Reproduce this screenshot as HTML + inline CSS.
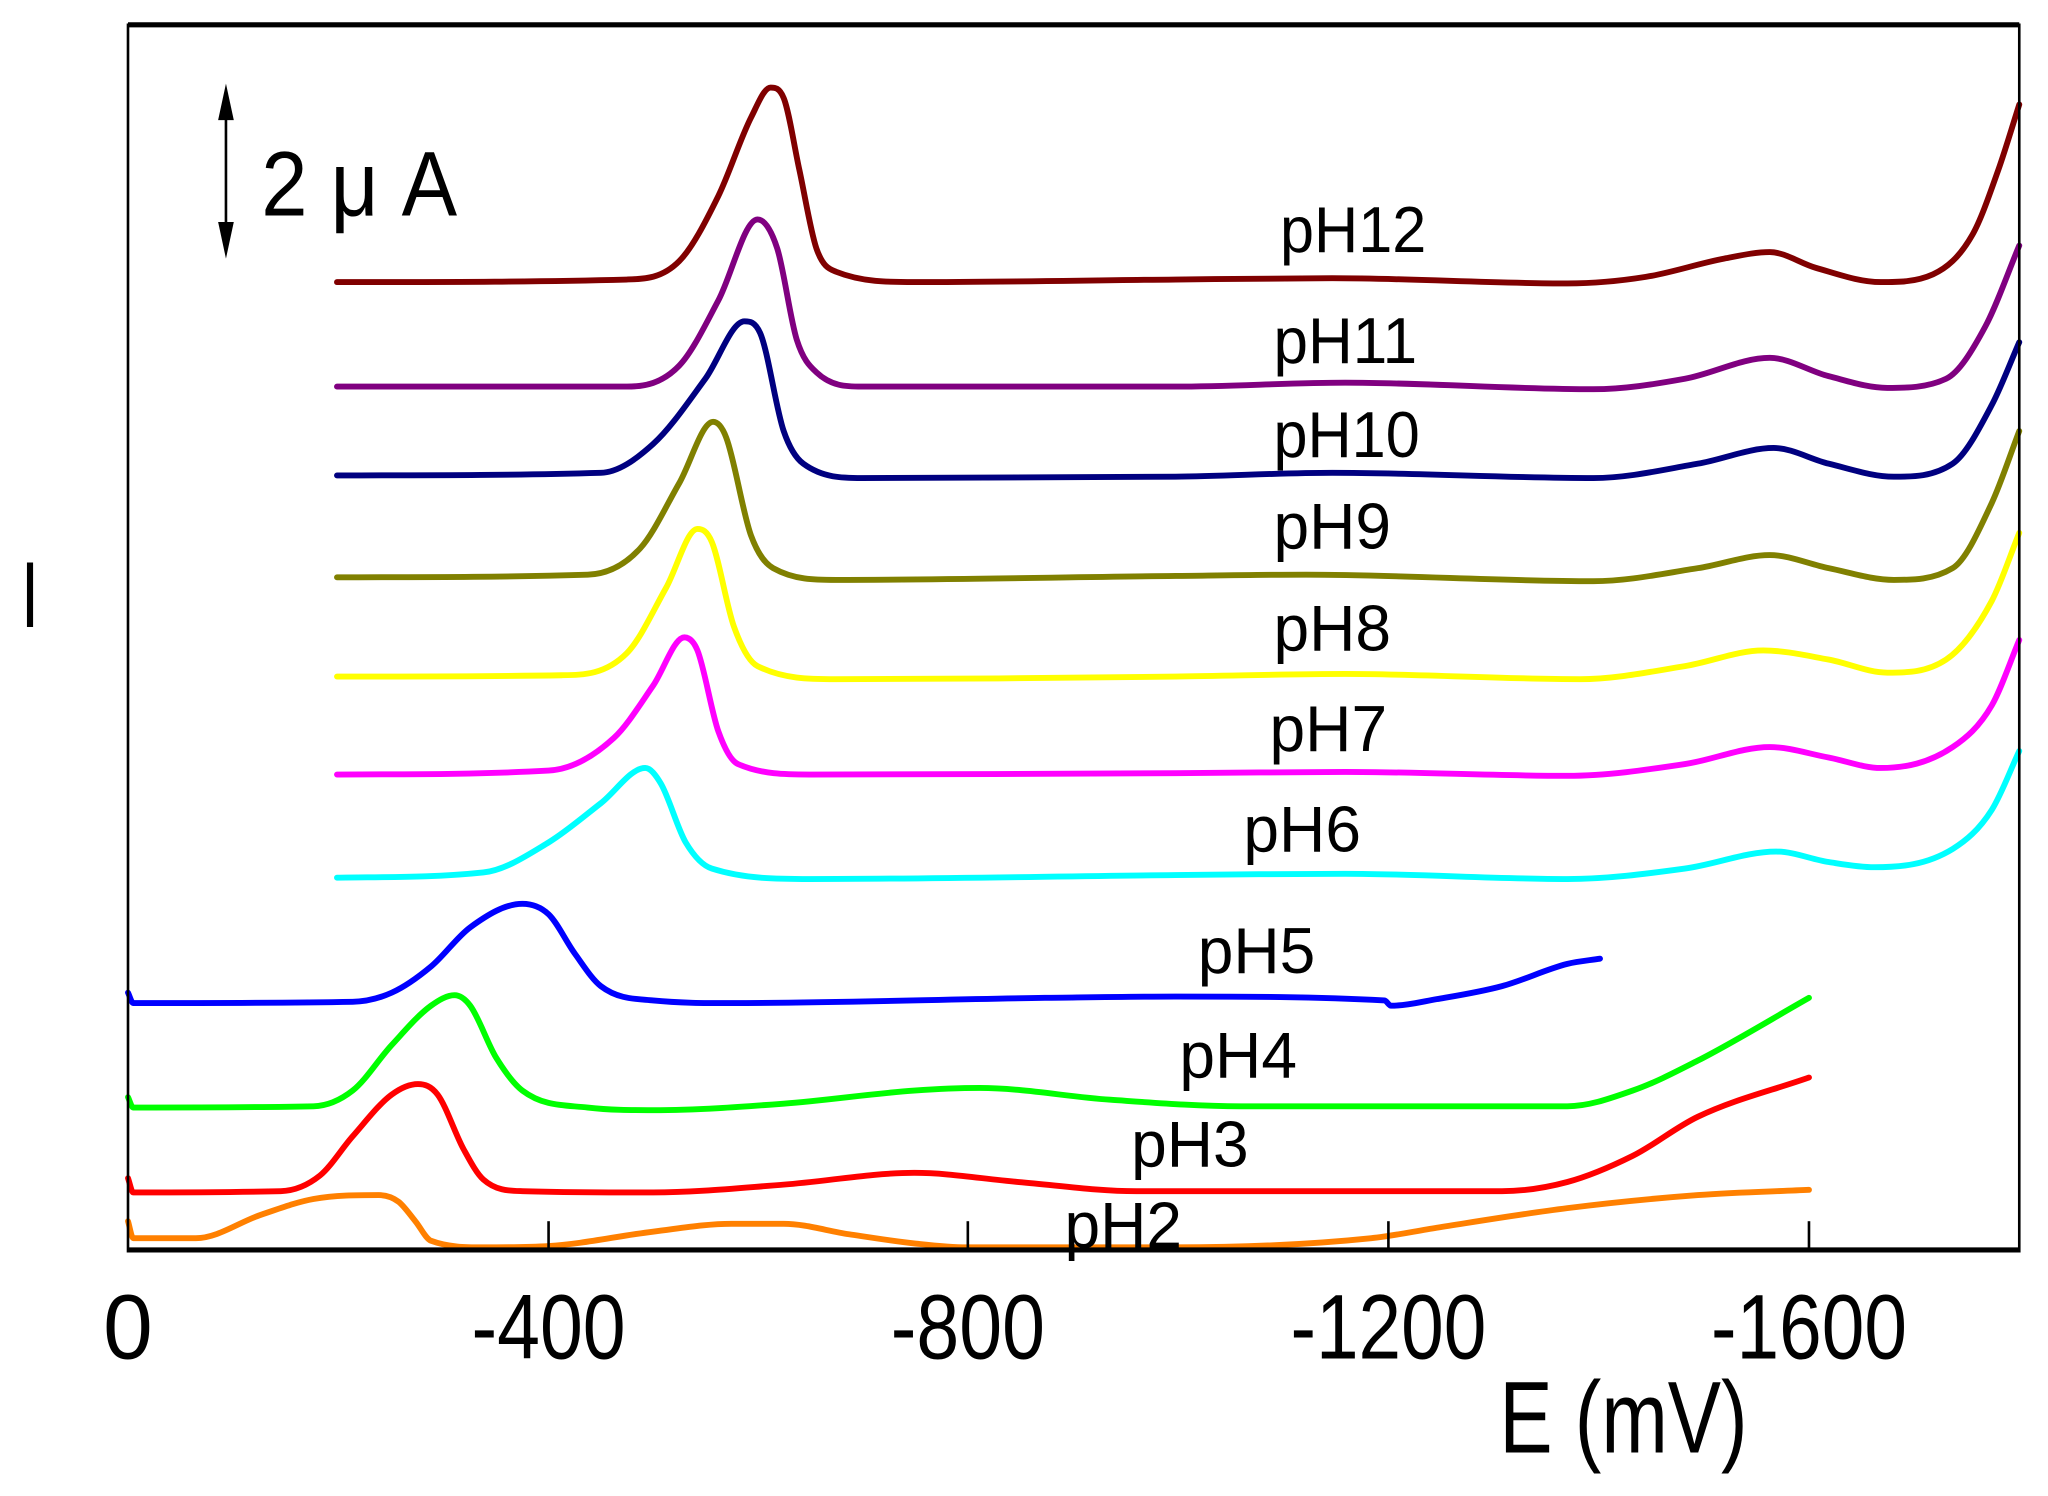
<!DOCTYPE html>
<html><head><meta charset="utf-8"><style>html,body{margin:0;padding:0;background:#fff}svg{display:block}</style></head>
<body>
<svg id="s" width="2048" height="1496" viewBox="0 0 1568 1145.4" preserveAspectRatio="none" xmlns="http://www.w3.org/2000/svg" font-family="Liberation Sans, sans-serif">
<rect width="1568" height="1146" fill="#fff"/>
<g id="curves" fill="none" stroke-width="4.5" stroke-linejoin="round" stroke-linecap="round">
<polyline stroke="#800000" points="258,216 480,214 520,200 550,150 575,90 590,67 600,75 612,130 625,190 640,208 700,216 900,214 1020,213 1200,217 1260,212 1320,198 1355,193 1390,205 1440,216 1480,210 1510,180 1530,130 1546,80"/>
<polyline stroke="#800080" points="258,296 480,296 520,280 550,230 580,168 595,190 610,260 625,285 660,296 900,296 1030,293 1220,298 1290,290 1355,274 1400,288 1445,297 1490,290 1520,250 1546,188"/>
<polyline stroke="#000080" points="258,364 460,362 500,340 540,290 570,246 582,255 600,330 615,355 660,366 900,365 1020,362 1220,366 1300,355 1358,343 1400,355 1450,365 1495,355 1525,310 1546,262"/>
<polyline stroke="#808000" points="258,442 450,440 490,420 520,370 546,323 556,335 575,410 592,435 640,444 900,441 1000,440 1220,445 1300,435 1355,425 1400,435 1450,444 1495,435 1525,385 1546,330"/>
<polyline stroke="#ffff00" points="258,518 430,517 480,500 510,450 534,405 545,415 562,480 580,510 640,520 900,518 1030,516 1210,520 1290,510 1350,498 1400,505 1445,515 1490,505 1525,460 1546,408"/>
<polyline stroke="#ff00ff" points="258,593 420,590 470,565 500,525 524,488 534,498 550,560 565,585 620,593 900,592 1030,591 1200,594 1290,585 1355,572 1400,580 1440,588 1495,572 1525,540 1546,490"/>
<polyline stroke="#00ffff" points="258,672 370,668 420,645 460,615 494,588 506,600 525,645 545,665 620,673 900,670 1030,669 1200,673 1290,665 1360,652 1400,660 1435,664 1495,650 1525,620 1546,575"/>
<polyline stroke="#0000ff" points="98,760 102,768 270,767 300,760 330,740 360,710 400,692 420,700 440,730 460,755 500,766 560,768 800,764 900,763 1060,766 1065,770 1100,765 1150,755 1200,738 1225,734"/>
<polyline stroke="#00ff00" points="98,840 102,848 240,847 270,835 300,800 330,770 348,762 360,770 380,810 400,835 450,848 500,850 600,845 700,835 750,833 850,842 950,847 1200,847 1250,835 1300,812 1385,764"/>
<polyline stroke="#ff0000" points="98,902 102,913 215,912 245,900 270,870 300,838 320,830 335,838 355,880 370,903 400,912 500,913 600,907 700,898 780,905 870,912 1150,912 1200,905 1250,885 1300,855 1385,825"/>
<polyline stroke="#ff8000" points="98,935 102,948 150,948 200,930 240,918 290,915 305,920 318,935 330,950 370,955 420,954 500,943 560,937 600,937 650,945 700,952 740,955 900,955 1050,948 1100,940 1200,925 1300,915 1385,911"/>
</g>
<g stroke="#000" fill="none">
<line x1="98" y1="19" x2="1546" y2="19" stroke-width="4"/>
<line x1="98" y1="957" x2="1546" y2="957" stroke-width="4"/>
<line x1="98" y1="18" x2="98" y2="959" stroke-width="2"/>
<line x1="1546" y1="18" x2="1546" y2="959" stroke-width="2"/>
<line x1="420" y1="957" x2="420" y2="935" stroke-width="2"/>
<line x1="741" y1="957" x2="741" y2="935" stroke-width="2"/>
<line x1="1063" y1="957" x2="1063" y2="935" stroke-width="2"/>
<line x1="1385" y1="957" x2="1385" y2="935" stroke-width="2"/>
<line x1="173" y1="80" x2="173" y2="182" stroke-width="2"/>
</g>
<polygon points="173,64 167,92 179,92" fill="#000"/>
<polygon points="173,198 167,170 179,170" fill="#000"/>
<g fill="#000" font-size="50">
<text x="980" y="193" textLength="112" lengthAdjust="spacingAndGlyphs">pH12</text>
<text x="975" y="278" textLength="110" lengthAdjust="spacingAndGlyphs">pH11</text>
<text x="975" y="350" textLength="112" lengthAdjust="spacingAndGlyphs">pH10</text>
<text x="975" y="420" textLength="90" lengthAdjust="spacingAndGlyphs">pH9</text>
<text x="975" y="498" textLength="90" lengthAdjust="spacingAndGlyphs">pH8</text>
<text x="972" y="575" textLength="90" lengthAdjust="spacingAndGlyphs">pH7</text>
<text x="952" y="652" textLength="90" lengthAdjust="spacingAndGlyphs">pH6</text>
<text x="917" y="745" textLength="90" lengthAdjust="spacingAndGlyphs">pH5</text>
<text x="903" y="825" textLength="90" lengthAdjust="spacingAndGlyphs">pH4</text>
<text x="866" y="893" textLength="90" lengthAdjust="spacingAndGlyphs">pH3</text>
<text x="815" y="955" textLength="90" lengthAdjust="spacingAndGlyphs">pH2</text>
</g>
<g fill="#000" font-size="70">
<text x="200" y="165" textLength="150" lengthAdjust="spacingAndGlyphs">2 μ A</text>
<text x="16" y="480" font-size="72" textLength="14" lengthAdjust="spacingAndGlyphs">I</text>
<text x="98" y="1040" text-anchor="middle" textLength="38" lengthAdjust="spacingAndGlyphs">0</text>
<text x="420" y="1040" text-anchor="middle" textLength="118" lengthAdjust="spacingAndGlyphs">-400</text>
<text x="741" y="1040" text-anchor="middle" textLength="118" lengthAdjust="spacingAndGlyphs">-800</text>
<text x="1063" y="1040" text-anchor="middle" textLength="150" lengthAdjust="spacingAndGlyphs">-1200</text>
<text x="1385" y="1040" text-anchor="middle" textLength="150" lengthAdjust="spacingAndGlyphs">-1600</text>
<text x="1148" y="1112" font-size="78" textLength="190" lengthAdjust="spacingAndGlyphs">E (mV)</text>
</g>
</svg>
<script>
(function(){
var NS="http://www.w3.org/2000/svg";
var pls=document.querySelectorAll("#curves polyline");
for(var k=0;k<pls.length;k++){
 var pl=pls[k];
 var pts=pl.getAttribute("points").trim().split(/\s+/).map(function(s){var a=s.split(",");return [+a[0],+a[1]];});
 var n=pts.length,dl=[],m=[];
 for(var i=0;i<n-1;i++) dl.push((pts[i+1][1]-pts[i][1])/(pts[i+1][0]-pts[i][0]));
 m[0]=dl[0];m[n-1]=dl[n-2];
 for(var i=1;i<n-1;i++){ m[i]=(dl[i-1]*dl[i]<=0)?0:(dl[i-1]+dl[i])/2; }
 for(var i=0;i<n-1;i++){
  if(dl[i]==0){m[i]=0;m[i+1]=0;continue;}
  var a=m[i]/dl[i],b=m[i+1]/dl[i],s=a*a+b*b;
  if(s>9){var t=3/Math.sqrt(s);m[i]=t*a*dl[i];m[i+1]=t*b*dl[i];}
 }
 var d="M"+pts[0][0]+","+pts[0][1];
 for(var i=0;i<n-1;i++){
  var p1=pts[i],p2=pts[i+1],h=(p2[0]-p1[0])/3;
  d+=" C"+(p1[0]+h).toFixed(1)+","+(p1[1]+m[i]*h).toFixed(1)+" "+(p2[0]-h).toFixed(1)+","+(p2[1]-m[i+1]*h).toFixed(1)+" "+p2[0]+","+p2[1];
 }
 var p=document.createElementNS(NS,"path");
 p.setAttribute("d",d);p.setAttribute("stroke",pl.getAttribute("stroke"));
 pl.parentNode.replaceChild(p,pl);
}
})();
</script>
</body></html>
